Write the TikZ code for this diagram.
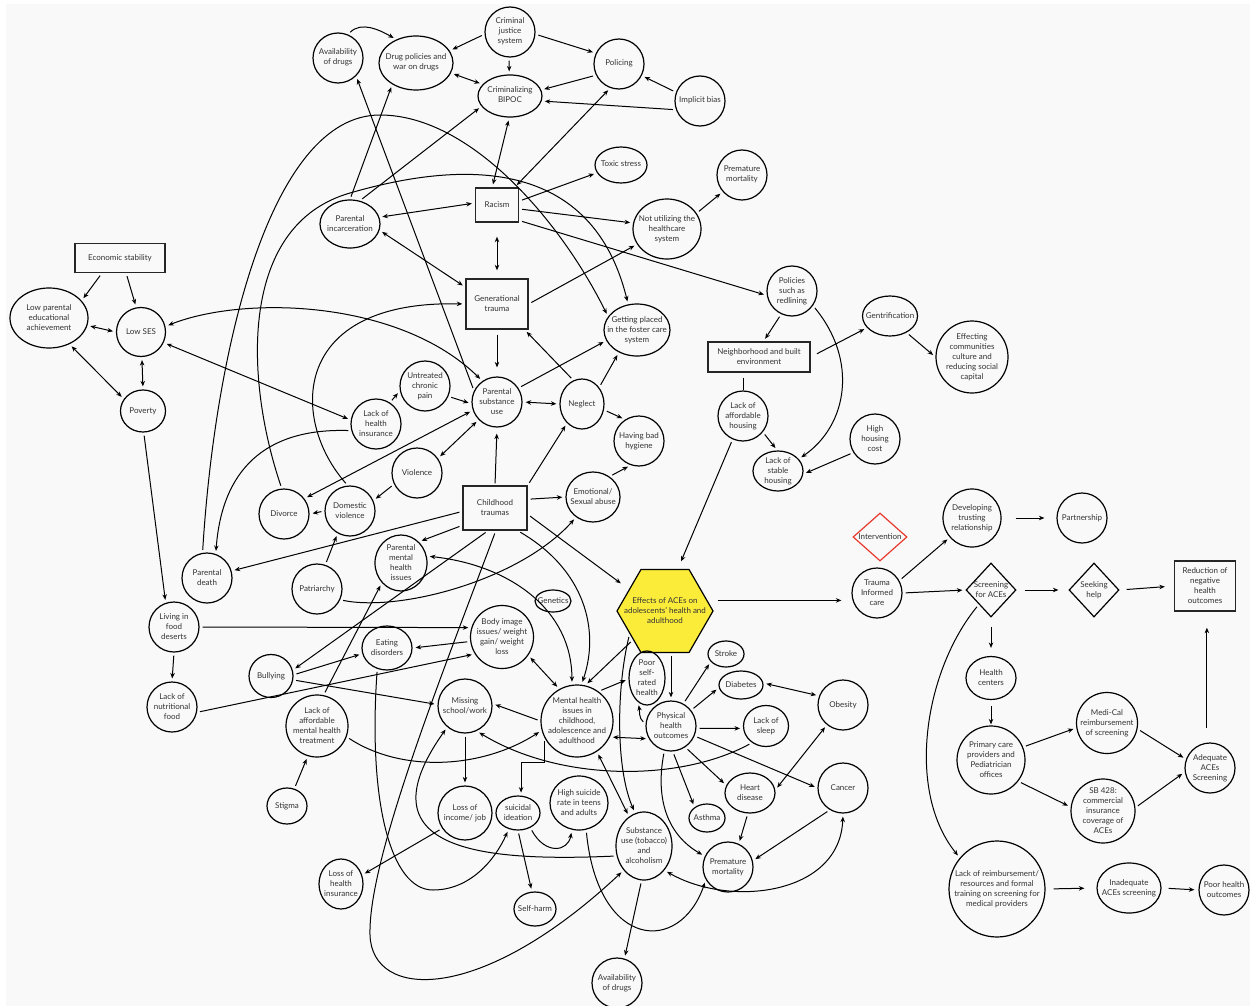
\documentclass[tikz,border=0pt]{standalone}
\usepackage{fontspec}
\setmainfont{Lato}
\usetikzlibrary{arrows.meta,shapes.geometric}
\definecolor{bgpanel}{HTML}{F9F9F9}
\definecolor{inktext}{HTML}{333333}
\definecolor{hexyellow}{HTML}{FCEC3A}
\definecolor{alertred}{HTML}{E8392E}
\newcommand{\boxtxt}[1]{\raisebox{-2pt}[0pt][0pt]{\makebox[0pt]{\begin{tabular}{@{}c@{}}#1\end{tabular}}}}

\begin{document}
\begin{tikzpicture}[x=1pt, y=-1pt, line width=1pt, >={Stealth[length=5.5pt,width=4.5pt]},
  every node/.style={inner sep=0pt, line width=1.2pt, text=inktext, font=\fontsize{8}{10}\selectfont},
  circ/.style={draw, circle, minimum size=#1},
  oval/.style 2 args={draw, ellipse, minimum width=#1, minimum height=#2},
  box/.style 2 args={draw=black!85, line width=1.4pt, rectangle, minimum width=#1, minimum height=#2},
  dia/.style 2 args={draw, diamond, minimum width=#1, minimum height=#2},
  arr/.style={->, shorten >=3pt, shorten <=3pt},
  dbl/.style={<->, shorten >=3pt, shorten <=3pt}]
\fill[white] (0,0) rectangle (1250,1006);
\fill[bgpanel] (6,4) rectangle (1250,1006);
\useasboundingbox (0,0) rectangle (1250,1006);

\node[circ=50] (avail1) at (338,58) {\boxtxt{Availability\\of drugs}};
\node[oval={74}{54}] (drugpol) at (416,63) {\boxtxt{Drug policies and\\war on drugs}};
\node[circ=50] (crimjus) at (510,32) {\boxtxt{Criminal\\justice\\system}};
\node[oval={64}{42}] (crimbipoc) at (510,96) {\boxtxt{Criminalizing\\BIPOC}};
\node[circ=50] (policing) at (619,64) {\boxtxt{Policing}};
\node[circ=50] (implicit) at (700,101) {\boxtxt{Implicit bias}};
\node[oval={52}{36}] (toxic) at (621,165) {\boxtxt{Toxic stress}};
\node[circ=50] (premort1) at (742,175) {\boxtxt{Premature\\mortality}};
\node[box={43}{34}] (racism) at (497,205) {\boxtxt{Racism}};
\node[oval={68}{60}] (notutil) at (667,229) {\boxtxt{Not utilizing the\\healthcare\\system}};
\node[circ=50] (redlining) at (792,291) {\boxtxt{Policies\\such as\\redlining}};
\node[oval={60}{48}] (incarc) at (350,224) {\boxtxt{Parental\\incarceration}};
\node[box={62}{50}] (gentrauma) at (497,304) {\boxtxt{Generational\\trauma}};
\node[oval={66}{52}] (foster) at (637,330) {\boxtxt{Getting placed\\in the foster care\\system}};
\node[box={90}{29}] (econ) at (120,258) {\boxtxt{Economic stability}};
\node[oval={78}{60}] (lowedu) at (49,318) {\boxtxt{Low parental\\educational\\achievement}};
\node[circ=49] (lowses) at (141,332) {\boxtxt{Low SES}};
\node[oval={45}{42}] (poverty) at (143,411) {\boxtxt{Poverty}};
\node[oval={55}{40}] (gentrif) at (890,316) {\boxtxt{Gentrification}};
\node[circ=72] (effcomm) at (972,357) {\boxtxt{Effecting\\communities\\culture and\\reducing social\\capital}};
\node[box={102}{30}] (neighb) at (759,357) {\boxtxt{Neighborhood and built\\environment}};
\node[circ=50] (affhous) at (743,416) {\boxtxt{Lack of\\affordable\\housing}};
\node[circ=50] (hihous) at (875,439) {\boxtxt{High\\housing\\cost}};
\node[oval={50}{40}] (stabhous) at (778,471) {\boxtxt{Lack of\\stable\\housing}};
\node[circ=50] (healthins) at (376,424) {\boxtxt{Lack of\\health\\insurance}};
\node[circ=50] (chronic) at (425,386) {\boxtxt{Untreated\\chronic\\pain}};
\node[circ=50] (psu) at (497,402) {\boxtxt{Parental\\substance\\use}};
\node[oval={44}{50}] (neglect) at (582,404) {\boxtxt{Neglect}};
\node[circ=50] (hygiene) at (639,441) {\boxtxt{Having bad\\hygiene}};
\node[circ=50] (violence) at (417,473) {\boxtxt{Violence}};
\node[circ=50] (divorce) at (284,514) {\boxtxt{Divorce}};
\node[circ=50] (domviol) at (350,511) {\boxtxt{Domestic\\violence}};
\node[box={64}{44}] (ctraumas) at (495,508) {\boxtxt{Childhood\\traumas}};
\node[oval={54}{50}] (emoabuse) at (593,497) {\boxtxt{Emotional/\\Sexual abuse}};
\node[circ=50] (pardeath) at (207,578) {\boxtxt{Parental\\death}};
\node[circ=50] (patriarchy) at (317,589) {\boxtxt{Patriarchy}};
\node[oval={52}{56}] (parmental) at (401,563) {\boxtxt{Parental\\mental\\health\\issues}};
\node[oval={36}{22}] (genetics) at (553,601) {\boxtxt{Genetics}};
\node[draw, fill=hexyellow, regular polygon, regular polygon sides=6, minimum size=96] (effects) at (665,611) {\boxtxt{Effects of ACEs on\\adolescents' health and\\adulthood}};
\node[circ=50] (fooddes) at (174,627) {\boxtxt{Living in\\food\\deserts}};
\node[circ=63] (bodyimg) at (502,637) {\boxtxt{Body image\\issues/ weight\\gain/ weight\\loss}};
\node[oval={50}{44}] (eating) at (387,648) {\boxtxt{Eating\\disorders}};
\node[oval={44}{43}] (bullying) at (271,676) {\boxtxt{Bullying}};
\node[circ=50] (nutri) at (172,707) {\boxtxt{Lack of\\nutritional\\food}};
\node[circ=62] (lamht) at (317,726) {\boxtxt{Lack of\\affordable\\mental health\\treatment}};
\node[oval={40}{36}] (stigma) at (287,806) {\boxtxt{Stigma}};
\node[oval={44}{50}] (insloss) at (341,884) {\boxtxt{Loss of\\health\\insurance}};
\node[circ=54] (missing) at (465,706) {\boxtxt{Missing\\school/work}};
\node[circ=72] (mental) at (577,721) {\boxtxt{Mental health\\issues in\\childhood,\\adolescence and\\adulthood}};
\node[oval={36}{54}] (poorself) at (647,678) {\boxtxt{Poor\\self-\\rated\\health}};
\node[oval={36}{26}] (stroke) at (726,654) {\boxtxt{Stroke}};
\node[oval={44}{28}] (diabetes) at (741,685) {\boxtxt{Diabetes}};
\node[circ=50] (physical) at (671,726) {\boxtxt{Physical\\health\\outcomes}};
\node[oval={45}{41}] (sleep) at (766,726) {\boxtxt{Lack of\\sleep}};
\node[circ=50] (obesity) at (843,705) {\boxtxt{Obesity}};
\node[circ=50] (cancer) at (843,788) {\boxtxt{Cancer}};
\node[oval={50}{40}] (heart) at (750,793) {\boxtxt{Heart\\disease}};
\node[oval={36}{28}] (asthma) at (707,818) {\boxtxt{Asthma}};
\node[circ=54] (incomeloss) at (465,813) {\boxtxt{Loss of\\income/ job}};
\node[oval={44}{34}] (suicidal) at (518,813) {\boxtxt{suicidal\\ideation}};
\node[oval={58}{54}] (highsuic) at (579,803) {\boxtxt{High suicide\\rate in teens\\and adults}};
\node[oval={56}{68}] (substance) at (644,846) {\boxtxt{Substance\\use (tobacco)\\and\\alcoholism}};
\node[circ=50] (premort2) at (728,867) {\boxtxt{Premature\\mortality}};
\node[oval={42}{34}] (selfharm) at (535,909) {\boxtxt{Self-harm}};
\node[circ=50] (avail2) at (617,983) {\boxtxt{Availability\\of drugs}};
\node[dia={54}{48}, draw=alertred] (intervention) at (880,537) {\boxtxt{Intervention}};
\node[circ=58] (trusting) at (972,518) {\boxtxt{Developing\\trusting\\relationship}};
\node[circ=50] (partnership) at (1082,518) {\boxtxt{Partnership}};
\node[circ=50] (trauma) at (877,593) {\boxtxt{Trauma\\Informed\\care}};
\node[dia={50}{54}] (screening) at (991,590) {\boxtxt{Screening\\for ACEs}};
\node[dia={50}{54}] (seeking) at (1094,590) {\boxtxt{Seeking\\help}};
\node[box={61}{50}] (reduction) at (1205,586) {\boxtxt{Reduction of\\negative\\health\\outcomes}};
\node[oval={50}{43}] (healthctr) at (991,678) {\boxtxt{Health\\centers}};
\node[circ=61] (medical) at (1107,723) {\boxtxt{Medi-Cal\\reimbursement\\of screening}};
\node[circ=68] (primary) at (991,760) {\boxtxt{Primary care\\providers and\\Pediatrician\\offices}};
\node[circ=50] (adequate) at (1210,768) {\boxtxt{Adequate\\ACEs\\Screening}};
\node[circ=64] (sb428) at (1103,811) {\boxtxt{SB 428:\\commercial\\insurance\\coverage of\\ACEs}};
\node[circ=96] (lackreimb) at (997,889) {\boxtxt{Lack of reimbursement/\\resources and formal\\training on screening for\\medical providers}};
\node[oval={64}{50}] (inadequate) at (1129,888) {\boxtxt{Inadequate\\ACEs screening}};
\node[circ=50] (poorhealth) at (1224,890) {\boxtxt{Poor health\\outcomes}};

\draw[arr] (avail1.67) to[out=45,in=150] (drugpol.130);
\draw[arr] (crimjus.185) -- (drugpol.20);
\draw[arr] (crimjus.-92) -- (crimbipoc.92);
\draw[arr] (crimjus.-5) -- (policing.155);
\draw[dbl] (drugpol.-16) -- (crimbipoc.157);
\draw[arr] (policing.-154) -- (crimbipoc.11);
\draw[arr] (implicit.160) -- (policing.-27);
\draw[arr] (implicit.-160) -- (crimbipoc.-9);
\draw[dbl] (crimbipoc.-92) -- (racism.105);
\draw[dbl] (policing.-110) -- (racism.45);
\draw[arr] (racism.10) -- (toxic.198);
\draw[arr] (racism.-10) -- (notutil.170);
\draw[arr] (notutil.28) -- (premort1.-139);
\draw[arr] (racism.-35) -- (redlining.190);
\draw[dbl, shorten <=14pt, shorten >=8pt] (racism.south) -- (gentrauma.north);
\draw[arr] (gentrauma.east) -- (notutil.207);
\draw[arr] (incarc.90) -- (drugpol.-138);
\draw[arr] (psu.154) -- (avail1.-45);
\draw[arr] (incarc.67) -- (crimbipoc.200);
\draw[dbl] (incarc.13) -- (racism.175);
\draw[dbl] (incarc.-12) -- (gentrauma.152);
\draw[arr] (divorce.95) .. controls (245,380) and (238,225) .. (350,193) .. controls (450,164) and (590,150) .. (foster.109);
\draw[arr] (pardeath.100) .. controls (215,350) and (270,115) .. (380,115) .. controls (470,115) and (560,220) .. (foster.155);
\draw[dbl] (lowses.13) .. controls (245,295) and (400,300) .. (psu.125);
\draw[arr] (domviol.95) .. controls (290,420) and (290,300) .. (gentrauma.180);
\draw[dbl] (lowedu.-11) -- (lowses.180);
\draw[dbl] (lowses.-88) -- (poverty.90);
\draw[dbl] (lowedu.-52) -- (poverty.148);
\draw[arr] (econ.-140) -- (lowedu.28);
\draw[arr] (econ.-68) -- (lowses.101);
\draw[dbl] (healthins.171) -- (lowses.-25);
\draw[arr] (healthins.57) -- (chronic.191);
\draw[arr] (healthins.195) .. controls (265,428) and (222,470) .. (pardeath.70);
\draw[arr] (chronic.-24) -- (psu.184);
\draw[arr, shorten <=5pt, shorten >=9pt] (gentrauma.south) -- (psu.north);
\draw[arr] (neglect.110) -- (gentrauma.-43);
\draw[arr] (psu.33) -- (foster.199);
\draw[dbl] (psu.east) -- (neglect.west);
\draw[arr] (neglect.44) -- (foster.-129);
\draw[arr] (neglect.-15) -- (hygiene.123);
\draw[dbl] (divorce.37) -- (psu.199);
\draw[dbl] (psu.-136) -- (violence.35);
\draw[arr] (violence.-154) -- (domviol.24);
\draw[arr] (domviol.west) -- (divorce.east);
\draw[arr] (patriarchy.71) -- (domviol.-119);
\draw[arr, shorten <=2pt, shorten >=6pt] (ctraumas.north) -- (psu.south);
\draw[arr] (ctraumas.north east) -- (neglect.-128);
\draw[arr] (ctraumas.15) -- (emoabuse.180);
\draw[arr] (emoabuse.51) -- (hygiene.-109);
\draw[arr] (ctraumas.186) -- (pardeath.16);
\draw[arr] (ctraumas.208) -- (parmental.50);
\draw[arr, shorten >=10pt] (ctraumas.-11) -- (effects.149);
\draw[arr] (ctraumas.-107) -- (bullying.15);
\draw[arr] (ctraumas.-88) .. controls (440,680) and (368,860) .. (370,935) .. controls (372,1000) and (480,1005) .. (substance.-130);
\draw[arr] (eating.-115) .. controls (368,800) and (390,890) .. (433,890) .. controls (470,890) and (495,860) .. (suicidal.-120);
\draw[arr] (incomeloss.-146) -- (insloss.23);
\draw[arr] (lamht.-20) .. controls (400,772) and (480,770) .. (mental.195);
\draw[arr] (lamht.78) -- (parmental.-134);
\draw[arr] (stigma.67) -- (lamht.-107);
\draw[arr] (fooddes.south) -- (nutri.north);
\draw[arr] (fooddes.east) -- (bodyimg.163);
\draw[arr] (poverty.-88) -- (fooddes.109);
\draw[arr] (nutri.-12) -- (bodyimg.-148);
\draw[arr] (bodyimg.188) -- (eating.east);
\draw[arr] (bullying.3) -- (eating.193);
\draw[arr] (bullying.-10) -- (missing.177);
\draw[arr] (patriarchy.-25) .. controls (400,612) and (520,580) .. (emoabuse.-130);
\draw[dbl] (parmental.15) .. controls (510,565) and (572,610) .. (mental.98);
\draw[arr] (ctraumas.-45) .. controls (585,570) and (600,630) .. (mental.83);
\draw[arr] (effects.-138) -- (mental.77);
\draw[dbl] (bodyimg.-35) -- (mental.119);
\draw[arr] (mental.54) -- (poorself.183);
\draw[arr] (mental.180) -- (missing.5);
\draw[dbl] (mental.-26) -- (physical.-150);
\draw[arr] (physical.175) to[out=140,in=-80] (poorself.-110);
\draw[arr] (effects.south -| physical) -- (physical);
\draw[arr] (physical.61) -- (stroke.-153);
\draw[arr] (physical.38) -- (diabetes.187);
\draw[dbl] (diabetes.5) -- (obesity.159);
\draw[arr] (physical.-5) -- (sleep.186);
\draw[arr] (physical.-23) -- (cancer.180);
\draw[arr] (physical.-56) -- (heart.162);
\draw[arr] (physical.-86) -- (asthma.139);
\draw[arr] (physical.-105) .. controls (655,800) and (668,835) .. (premort2.155);
\draw[dbl] (heart.7) -- (obesity.-129);
\draw[arr] (heart.-96) -- (premort2.65);
\draw[arr] (cancer.-121) -- (premort2.14);
\draw[dbl] (substance.-50) .. controls (730,908) and (840,895) .. (cancer.-90);
\draw[arr] (sleep.-130) .. controls (680,782) and (560,782) .. (missing.-65);
\draw[arr] (missing.south) -- (incomeloss.north);
\draw[arr] (mental.-152) -- ++(0,24) -| (suicidal.80);
\draw[arr] (suicidal.-50) .. controls (545,855) and (568,852) .. (highsuic.-105);
\draw[arr] (suicidal.-90) -- (selfharm.100);
\draw[dbl] (mental.-57) -- (substance.117);
\draw[arr] (effects.-147) .. controls (616,690) and (616,770) .. (substance.105);
\draw[arr] (substance.-94) -- (avail2.73);
\draw[arr] (substance.-160) .. controls (480,862) and (360,850) .. (missing.-130);
\draw[arr] (highsuic.-75) .. controls (598,950) and (680,955) .. (premort2.-150);
\draw[arr, shorten <=10pt, shorten >=10pt] (effects.14) -- (effects.14 -| trauma.west);
\draw[arr] (trauma.29) -- (trusting.-139);
\draw[arr] (trauma.east) -- (screening.west);
\draw[arr, shorten <=14pt, shorten >=12pt] (trusting.east) -- (partnership.west);
\draw[arr, shorten <=8pt, shorten >=10pt] (screening.east) -- (seeking.west);
\draw[arr, shorten <=7pt, shorten >=9pt] (seeking.east) -- (reduction.west);
\draw[arr, shorten <=9pt, shorten >=8pt] (screening.south) -- (healthctr.north);
\draw[arr, shorten <=6pt, shorten >=1pt] (healthctr.south) -- (primary.north);
\draw[arr] (primary.22) -- (medical.189);
\draw[arr] (primary.-38) -- (sb428.173);
\draw[arr] (medical.-11) -- (adequate.160);
\draw[arr] (sb428.6) -- (adequate.-171);
\draw[arr, shorten <=15pt, shorten >=16pt] (adequate.97) -- (adequate.97 |- reduction.south);
\draw[arr] (screening.-130) .. controls (925,670) and (905,790) .. (lackreimb.140);
\draw[arr, shorten <=8pt, shorten >=12pt] (lackreimb.east) -- (inadequate.west);
\draw[arr, shorten <=7pt, shorten >=4pt] (inadequate.east) -- (poorhealth.west);
\draw[arr] (redlining.-115) -- (neighb.74);
\draw[arr, shorten <=7pt] (neighb.east) -- (gentrif.-153);
\draw[arr] (gentrif.-45) -- (effcomm.180);
\draw[arr] (redlining.-35) .. controls (858,360) and (848,425) .. (stabhous.30);
\draw[arr] (hihous.-148) -- (stabhous.-7);
\draw[shorten <=5pt] (affhous.north |- neighb.south) -- (affhous.north);
\draw[arr] (affhous.-39) -- (stabhous.92);
\draw[arr, shorten >=8pt] (affhous.-114) -- (effects.73);
\end{tikzpicture}
\end{document}
